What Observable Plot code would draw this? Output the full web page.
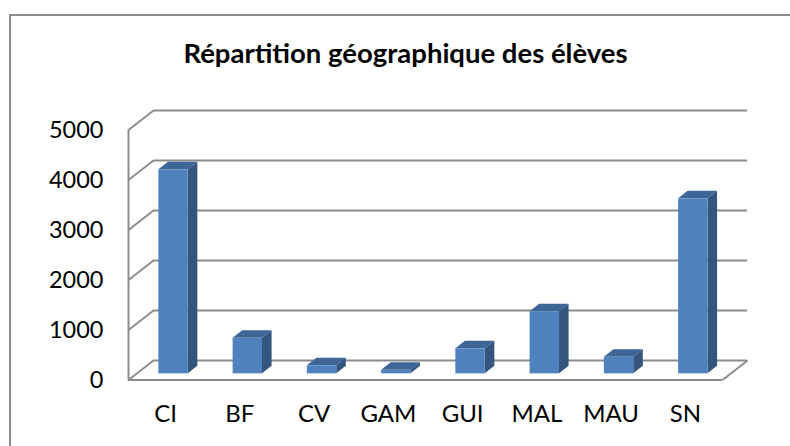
<!DOCTYPE html>
<html><head><meta charset="utf-8">
<script src="https://cdn.jsdelivr.net/npm/d3@7"></script>
<script src="https://cdn.jsdelivr.net/npm/@observablehq/plot@0.6"></script>
<style>body{margin:0;background:#fff} svg{display:block}</style>
</head><body><div id="chart"></div>
<script>
const title = "Répartition géographique des élèves";
const categories = ["CI", "BF", "CV", "GAM", "GUI", "MAL", "MAU", "SN"];
const values = [4080, 710, 160, 70, 500, 1240, 330, 3500];
const yTicks = [0, 1000, 2000, 3000, 4000, 5000];

const n = categories.length;
// oblique depth of the 3D box, in data units (x: category units, y: value units)
const DX = 0.337, DY = 390;
const z0 = 0.317, z1 = 0.70, halfW = 0.198;
const bars = categories.map((c, i) => ({c, i, v: values[i]}));
const front = bars.map(d => ({c: d.c,
  x1: d.i + 0.5 - halfW + z0 * DX, x2: d.i + 0.5 + halfW + z0 * DX,
  y1: z0 * DY, y2: d.v + z0 * DY}));
const side = bars.flatMap(d => [
  {c: d.c, x: d.i + 0.5 + halfW + z0 * DX, y1: z0 * DY, y2: d.v + z0 * DY},
  {c: d.c, x: d.i + 0.5 + halfW + z1 * DX, y1: z1 * DY, y2: d.v + z1 * DY}]);
const topFace = bars.flatMap(d => [
  {c: d.c, y: d.v + z0 * DY, x1: d.i + 0.5 - halfW + z0 * DX, x2: d.i + 0.5 + halfW + z0 * DX},
  {c: d.c, y: d.v + z1 * DY, x1: d.i + 0.5 - halfW + z1 * DX, x2: d.i + 0.5 + halfW + z1 * DX}]);

const W = 790, H = 446;
const mL = 128, mR = 68, mT = 129.5, mB = 66.5;
const grid = {stroke: "#8c8c8c", strokeWidth: 2};

const chart = Plot.plot({
  width: W, height: H,
  marginLeft: mL, marginRight: mR, marginTop: mT, marginBottom: mB,
  style: {fontFamily: "Lato, 'Open Sans', sans-serif", background: "#fff", color: "#000"},
  x: {type: "linear", domain: [0, n]},
  y: {type: "linear", domain: [0, 5000]},
  marks: [
    Plot.frame({stroke: "#8c8c8c", strokeWidth: 2,
      insetLeft: 9.5 - mL, insetTop: 14.5 - mT, insetRight: -(W + 10 - (W - mR)), insetBottom: -(H + 10 - (H - mB))}),
    // back wall gridlines
    Plot.ruleY(yTicks, {y: t => t + DY, x1: DX, x2: n + DX, ...grid}),
    // left wall diagonals
    Plot.link(yTicks, {x1: 0, y1: t => t, x2: DX, y2: t => t + DY, ...grid}),
    // front-left edge
    Plot.ruleX([0], {y1: 0, y2: 5000, ...grid}),
    // floor front edge and right diagonal
    Plot.ruleY([0], {x1: 0, x2: n, ...grid}),
    Plot.link([0], {x1: n, y1: 0, x2: n + DX, y2: DY, ...grid}),
    // bars
    Plot.areaY(side, {x: "x", y1: "y1", y2: "y2", z: "c", fill: "#34557d", curve: "linear"}),
    Plot.areaX(topFace, {y: "y", x1: "x1", x2: "x2", z: "c", fill: "#3d6596", curve: "linear"}),
    Plot.rect(front, {x1: "x1", x2: "x2", y1: "y1", y2: "y2", fill: "#4f81bd"}),
    // axes
    Plot.axisY(yTicks, {anchor: "left", tickSize: 0, tickPadding: 25, fontSize: 23.5, tickFormat: d => String(d), label: null}),
    Plot.axisX(d3.range(n).map(i => i + 0.5), {anchor: "bottom", tickSize: 0, tickPadding: 25, fontSize: 24,
      tickFormat: d => categories[Math.floor(d)], label: null}),
    // title
    Plot.text([title], {frameAnchor: "top", lineAnchor: "middle", dx: -20, dy: -76, fontSize: 27.5, fontWeight: "bold", fill: "#000", text: d => d})
  ]
});
document.getElementById("chart").appendChild(chart);
</script>
</body></html>
